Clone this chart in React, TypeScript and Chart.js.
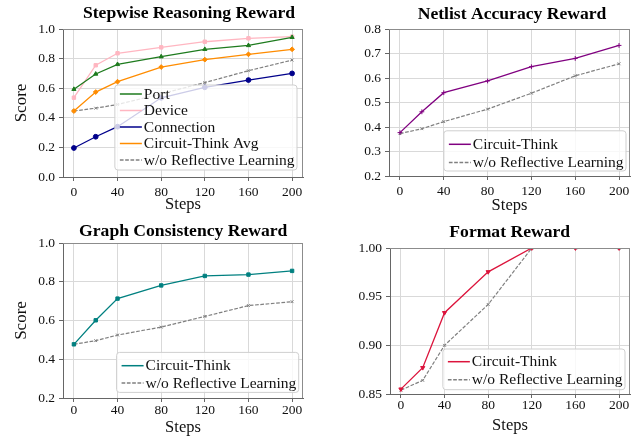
import React, { useEffect, useRef } from 'react';
import { Chart, registerables } from 'chart.js';

Chart.register(...registerables);

const FONT = "'Liberation Serif', 'Times New Roman', Times, serif";

// ---------- data ----------
const steps = [0, 20, 40, 80, 120, 160, 200];
const stepTicks = [0, 40, 80, 120, 160, 200];

const portScore = [0.593, 0.696, 0.761, 0.813, 0.863, 0.889, 0.944];
const deviceScore = [0.536, 0.755, 0.836, 0.876, 0.914, 0.937, 0.948];
const connectionScore = [0.196, 0.272, 0.34, 0.535, 0.606, 0.655, 0.7];
const stepwiseAvgScore = [0.446, 0.574, 0.644, 0.743, 0.793, 0.829, 0.863];
const stepwiseNoReflect = [0.446, 0.465, 0.49, 0.562, 0.638, 0.718, 0.79];

const netlistScore = [0.377, 0.462, 0.54, 0.588, 0.646, 0.68, 0.733];
const netlistNoReflect = [0.373, 0.393, 0.422, 0.473, 0.538, 0.609, 0.658];

const graphScore = [0.477, 0.601, 0.713, 0.781, 0.83, 0.837, 0.856];
const graphNoReflect = [0.477, 0.496, 0.525, 0.566, 0.621, 0.677, 0.697];

const formatScore = [0.855, 0.877, 0.9335, 0.9755, 1.0, 1.0, 1.0];
const formatNoReflect = [0.854, 0.864, 0.9, 0.942, 1.0, 1.0, 1.0];

const stepwiseYTicks = [0, 0.2, 0.4, 0.6, 0.8, 1.0];
const netlistYTicks = [0.2, 0.3, 0.4, 0.5, 0.6, 0.7, 0.8];
const graphYTicks = [0.2, 0.4, 0.6, 0.8, 1.0];
const formatYTicks = [0.85, 0.9, 0.95, 1.0];

const LBL_CT = 'Circuit-Think';
const LBL_WO = 'w/o Reflective Learning';

type Series = {
  label: string;
  data: number[];
  color: string;
  dashed?: boolean;
  pointStyle: string;
  rotation?: number;
};

type PanelCfg = {
  id: string;
  left: number;
  top: number;
  width: number;
  height: number;
  area: { left: number; right: number; top: number; bottom: number };
  title: string;
  titleX: number;
  titleBase: number;
  yMin: number;
  yMax: number;
  yTicks: number[];
  decimals: number;
  yLabel: boolean;
  xTitlePad: number;
  xTickPad: number;
  legend: { right: number; bottom: number; padTop: number; padBottom: number; rowGap: number };
  series: Series[];
};

const GRAY = '#808080';

const panels: PanelCfg[] = [
  {
    id: 'stepwise', left: 0, top: 0, width: 320, height: 220,
    area: { left: 63, right: 303, top: 29, bottom: 177 },
    title: 'Stepwise Reasoning Reward', titleX: 189, titleBase: 18.3,
    yMin: 0, yMax: 1, yTicks: stepwiseYTicks, decimals: 1, yLabel: true,
    xTitlePad: 5, xTickPad: 3,
    legend: { right: 6, bottom: 7, padTop: 9, padBottom: 10, rowGap: 16.5 },
    series: [
      { label: 'Port', data: portScore, color: '#1e7b1e', pointStyle: 'triangle' },
      { label: 'Device', data: deviceScore, color: '#ffb6c1', pointStyle: 'rect' },
      { label: 'Connection', data: connectionScore, color: '#00008b', pointStyle: 'circle' },
      { label: 'Circuit-Think Avg', data: stepwiseAvgScore, color: '#ff8c00', pointStyle: 'rectRot' },
      { label: LBL_WO, data: stepwiseNoReflect, color: GRAY, dashed: true, pointStyle: 'crossRot' },
    ],
  },
  {
    id: 'netlist', left: 320, top: 0, width: 321, height: 220,
    area: { left: 69, right: 310, top: 29, bottom: 176 },
    title: 'Netlist Accuracy Reward', titleX: 192, titleBase: 19.3,
    yMin: 0.2, yMax: 0.8, yTicks: netlistYTicks, decimals: 1, yLabel: false,
    xTitlePad: 4, xTickPad: 3,
    legend: { right: 4, bottom: 5, padTop: 13.5, padBottom: 8.5, rowGap: 18.2 },
    series: [
      { label: LBL_CT, data: netlistScore, color: '#800080', pointStyle: 'cross' },
      { label: LBL_WO, data: netlistNoReflect, color: GRAY, dashed: true, pointStyle: 'crossRot' },
    ],
  },
  {
    id: 'graph', left: 0, top: 220, width: 320, height: 221,
    area: { left: 63, right: 303, top: 23, bottom: 178 },
    title: 'Graph Consistency Reward', titleX: 183.2, titleBase: 15.7,
    yMin: 0.2, yMax: 1.0, yTicks: graphYTicks, decimals: 1, yLabel: true,
    xTitlePad: 3.6, xTickPad: 0.6,
    legend: { right: 4.3, bottom: 5.6, padTop: 13.3, padBottom: 9.4, rowGap: 17.3 },
    series: [
      { label: LBL_CT, data: graphScore, color: '#008080', pointStyle: 'rect' },
      { label: LBL_WO, data: graphNoReflect, color: GRAY, dashed: true, pointStyle: 'crossRot' },
    ],
  },
  {
    id: 'format', left: 320, top: 220, width: 321, height: 221,
    area: { left: 70, right: 310, top: 28, bottom: 174 },
    title: 'Format Reward', titleX: 189.7, titleBase: 16.7,
    yMin: 0.85, yMax: 1.0, yTicks: formatYTicks, decimals: 2, yLabel: false,
    xTitlePad: 5, xTickPad: -1,
    legend: { right: 5, bottom: 4.3, padTop: 12.7, padBottom: 10, rowGap: 18 },
    series: [
      { label: LBL_CT, data: formatScore, color: '#dc143c', pointStyle: 'triangle', rotation: 180 },
      { label: LBL_WO, data: formatNoReflect, color: GRAY, dashed: true, pointStyle: 'crossRot' },
    ],
  },
];

const DASH = [3.7, 1.6];

function Panel({ cfg }: { cfg: PanelCfg }) {
  const ref = useRef<HTMLCanvasElement>(null);

  useEffect(() => {
    const canvas = ref.current;
    if (!canvas) return;

    const decor = {
      id: 'panelDecor',
      afterDatasetsDraw(chart: any) {
        const { ctx, chartArea: a } = chart;
        ctx.save();
        // top / right spines
        ctx.strokeStyle = '#8c8c8c';
        ctx.lineWidth = 1;
        ctx.setLineDash([]);
        const ty = Math.round(a.top) + 0.5;
        const rx = Math.round(a.right) - 0.5;
        ctx.beginPath();
        ctx.moveTo(a.left, ty);
        ctx.lineTo(a.right, ty);
        ctx.moveTo(rx, a.top);
        ctx.lineTo(rx, a.bottom);
        ctx.stroke();

        // legend
        const L = cfg.legend;
        ctx.font = `15.5px ${FONT}`;
        const maxW = Math.max(...cfg.series.map((s) => ctx.measureText(s.label).width));
        const padL = 5, lineLen = 22, gap = 2, padR = 2.5;
        const n = cfg.series.length;
        const w = padL + lineLen + gap + maxW + padR;
        const h = L.padTop + (n - 1) * L.rowGap + L.padBottom;
        const x1 = a.right - L.right;
        const y1 = a.bottom - L.bottom;
        const x0 = x1 - w;
        const y0 = y1 - h;
        ctx.beginPath();
        if ((ctx as any).roundRect) (ctx as any).roundRect(x0, y0, w, h, 3);
        else ctx.rect(x0, y0, w, h);
        ctx.fillStyle = 'rgba(255,255,255,0.8)';
        ctx.fill();
        ctx.strokeStyle = '#cfcfcf';
        ctx.lineWidth = 1;
        ctx.stroke();
        cfg.series.forEach((s, i) => {
          const cy = y0 + L.padTop + i * L.rowGap;
          ctx.beginPath();
          ctx.setLineDash(s.dashed ? DASH : []);
          ctx.strokeStyle = s.color;
          ctx.lineWidth = 1.5;
          ctx.moveTo(x0 + padL, cy);
          ctx.lineTo(x0 + padL + lineLen, cy);
          ctx.stroke();
          ctx.setLineDash([]);
          ctx.fillStyle = '#111';
          ctx.textAlign = 'left';
          ctx.textBaseline = 'alphabetic';
          ctx.fillText(s.label, x0 + padL + lineLen + gap, cy + 4.6);
        });
        ctx.restore();
      },
      afterDraw(chart: any) {
        const { ctx } = chart;
        ctx.save();
        ctx.font = `bold 17.6px ${FONT}`;
        ctx.fillStyle = '#000';
        ctx.textAlign = 'center';
        ctx.textBaseline = 'alphabetic';
        ctx.fillText(cfg.title, cfg.titleX, cfg.titleBase);
        ctx.restore();
      },
    };

    const datasets = cfg.series.map((s) => ({
      label: s.label,
      data: steps.map((x, i) => ({ x, y: s.data[i] })),
      borderColor: s.color,
      backgroundColor: s.color,
      borderWidth: s.dashed ? 1.2 : 1.3,
      borderDash: s.dashed ? DASH : [],
      pointStyle: s.pointStyle as any,
      rotation: s.rotation ?? 0,
      pointRadius: s.dashed ? 2 : 2.4,
      pointBorderWidth: 1,
      pointBackgroundColor: s.color,
      pointBorderColor: s.color,
      tension: 0,
      fill: false,
    }));

    const chart = new Chart(canvas, {
      type: 'line',
      data: { datasets } as any,
      options: {
        responsive: false,
        animation: false,
        devicePixelRatio: 1,
        events: [],
        layout: {
          padding: { top: cfg.area.top, right: cfg.width - cfg.area.right, left: 0, bottom: 0 },
        },
        plugins: {
          legend: { display: false },
          title: { display: false },
          tooltip: { enabled: false },
        },
        scales: {
          x: {
            type: 'linear',
            min: -10,
            max: 210,
            afterFit: (s: any) => { s.height = cfg.height - cfg.area.bottom; },
            afterBuildTicks: (s: any) => { s.ticks = stepTicks.map((v) => ({ value: v })); },
            ticks: {
              autoSkip: false,
              maxRotation: 0,
              padding: cfg.xTickPad,
              color: '#111',
              font: { family: FONT, size: 13.5 },
              callback: (v: any) => String(v),
            },
            grid: { color: '#d9d9d9', lineWidth: 1, tickColor: '#666', tickLength: 4 },
            border: { color: '#666', width: 1 },
            title: {
              display: true,
              text: 'Steps',
              color: '#111',
              font: { family: FONT, size: 16.5 },
              padding: { top: 0, bottom: cfg.xTitlePad },
            },
          },
          y: {
            type: 'linear',
            min: cfg.yMin,
            max: cfg.yMax,
            afterFit: (s: any) => { s.width = cfg.area.left; },
            afterBuildTicks: (s: any) => { s.ticks = cfg.yTicks.map((v) => ({ value: v })); },
            ticks: {
              autoSkip: false,
              padding: 4,
              color: '#111',
              font: { family: FONT, size: 13.5 },
              callback: (v: any) => Number(v).toFixed(cfg.decimals),
            },
            grid: { color: '#d9d9d9', lineWidth: 1, tickColor: '#666', tickLength: 4 },
            border: { color: '#666', width: 1 },
            title: {
              display: cfg.yLabel,
              text: 'Score',
              color: '#111',
              font: { family: FONT, size: 17 },
              padding: { top: 11, bottom: 0 },
            },
          },
        },
      } as any,
      plugins: [decor],
    });

    return () => chart.destroy();
  }, [cfg]);

  return (
    <canvas
      ref={ref}
      width={cfg.width}
      height={cfg.height}
      style={{ position: 'absolute', left: cfg.left, top: cfg.top, width: cfg.width, height: cfg.height }}
    />
  );
}

export default function App() {
  return (
    <div style={{ position: 'absolute', left: 0, top: 0, width: 641, height: 441, background: '#fff', overflow: 'hidden' }}>
      {panels.map((p) => (
        <Panel key={p.id} cfg={p} />
      ))}
    </div>
  );
}
